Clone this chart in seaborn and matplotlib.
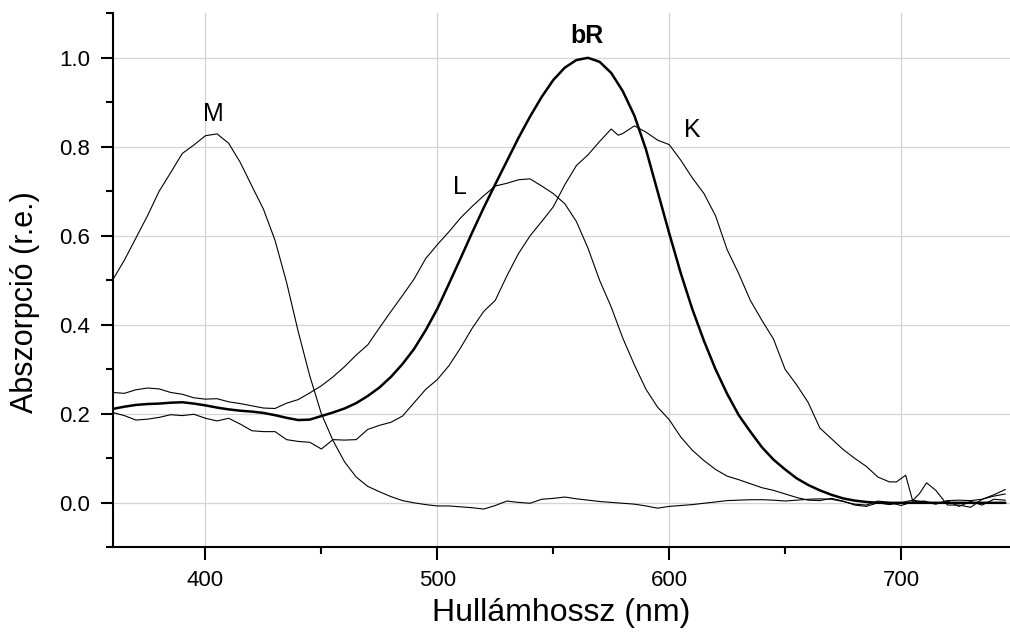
import matplotlib
matplotlib.use("Agg")
import matplotlib.pyplot as plt
from matplotlib.ticker import MultipleLocator, FormatStrFormatter
import seaborn as sns

# Absorption spectra of bacteriorhodopsin and its photocycle intermediates
wl_5nm = list(range(360, 750, 5))

abs_br = [0.211, 0.216, 0.220, 0.222, 0.223, 0.225, 0.226, 0.223, 0.219, 0.214,
          0.210, 0.207, 0.205, 0.202, 0.197, 0.191, 0.186, 0.187, 0.195, 0.203,
          0.212, 0.224, 0.240, 0.259, 0.283, 0.312, 0.346, 0.388, 0.436, 0.492,
          0.549, 0.607, 0.663, 0.716, 0.768, 0.820, 0.868, 0.912, 0.950, 0.978,
          0.995, 1.000, 0.991, 0.966, 0.925, 0.870, 0.794, 0.700, 0.606, 0.516,
          0.435, 0.364, 0.300, 0.245, 0.197, 0.160, 0.125, 0.097, 0.075, 0.055,
          0.040, 0.028, 0.018, 0.010, 0.005, 0.002, 0.000, 0.000, 0.000, 0.000,
          0.000, 0.000, 0.000, 0.000, 0.000, 0.000, 0.000, 0.000]

abs_l = [0.248, 0.246, 0.254, 0.258, 0.256, 0.248, 0.244, 0.236, 0.233, 0.234,
         0.227, 0.223, 0.218, 0.213, 0.212, 0.224, 0.232, 0.247, 0.263, 0.283,
         0.306, 0.332, 0.355, 0.393, 0.430, 0.466, 0.503, 0.549, 0.580, 0.609,
         0.640, 0.666, 0.690, 0.712, 0.718, 0.726, 0.728, 0.712, 0.695, 0.672,
         0.632, 0.572, 0.500, 0.440, 0.370, 0.310, 0.255, 0.215, 0.187, 0.148,
         0.118, 0.095, 0.075, 0.060, 0.052, 0.043, 0.034, 0.028, 0.020, 0.012,
         0.006, 0.005, 0.010, 0.004, -0.005, -0.008, 0.000, -0.004, 0.000, 0.006,
         0.002, -0.003, 0.005, 0.006, 0.005, 0.008, 0.015, 0.020]

abs_m = [0.501, 0.545, 0.595, 0.645, 0.700, 0.742, 0.785, 0.804, 0.825, 0.829,
         0.808, 0.765, 0.712, 0.660, 0.590, 0.495, 0.385, 0.285, 0.200, 0.140,
         0.092, 0.058, 0.037, 0.025, 0.014, 0.005, 0.000, -0.004, -0.007, -0.007,
         -0.009, -0.011, -0.014, -0.006, 0.004, 0.001, -0.001, 0.008, 0.010, 0.013,
         0.009, 0.006, 0.003, 0.001, -0.001, -0.003, -0.007, -0.012, -0.008, -0.006,
         -0.004, -0.001, 0.002, 0.005, 0.006, 0.007, 0.007, 0.006, 0.004, 0.006,
         0.008, 0.009, 0.008, 0.003, -0.003, -0.005, 0.004, 0.001, -0.006, 0.002,
         0.004, -0.002, 0.004, -0.008, 0.003, -0.005, 0.008, 0.006]

wl_k = [360, 365, 370, 375, 380, 385, 390, 395, 400, 405, 410, 415, 420, 425,
        430, 435, 440, 445, 450, 455, 460, 465, 470, 475, 480, 485, 490, 495,
        500, 505, 510, 515, 520, 525, 530, 535, 540, 545, 550, 555, 560, 565,
        570, 575, 578, 580, 585, 590, 595, 600, 605, 610, 615, 620, 625, 630,
        635, 640, 645, 650, 655, 660, 665, 670, 675, 680, 685, 690, 695, 698,
        702, 705, 708, 711, 715, 720, 725, 730, 735, 740, 745]
abs_k = [0.203, 0.196, 0.186, 0.188, 0.192, 0.198, 0.196, 0.199, 0.190, 0.184,
         0.190, 0.177, 0.162, 0.160, 0.160, 0.142, 0.138, 0.136, 0.121, 0.142,
         0.141, 0.142, 0.165, 0.174, 0.181, 0.195, 0.225, 0.255, 0.277, 0.308,
         0.348, 0.392, 0.430, 0.455, 0.510, 0.560, 0.600, 0.632, 0.665, 0.715,
         0.758, 0.782, 0.812, 0.840, 0.826, 0.830, 0.847, 0.833, 0.815, 0.805,
         0.770, 0.730, 0.695, 0.645, 0.569, 0.515, 0.455, 0.410, 0.368, 0.300,
         0.265, 0.225, 0.168, 0.144, 0.120, 0.100, 0.082, 0.058, 0.047, 0.047,
         0.062, 0.005, 0.021, 0.045, 0.028, -0.005, -0.005, -0.010, 0.008, 0.018,
         0.030]

labels = ["M", "L", "bR", "K"]
label_x = [403.4, 509.8, 564.4, 609.9]
label_y = [0.857, 0.694, 1.034, 0.823]
label_weight = ["normal", "normal", "bold", "normal"]

x_ticks = [400, 500, 600, 700]
y_ticks = [0.0, 0.2, 0.4, 0.6, 0.8, 1.0]

sns.set_theme(style="ticks")
plt.rcParams["font.family"] = ["Liberation Sans", "DejaVu Sans"]

fig = plt.figure(figsize=(10.1, 6.4), dpi=100)
ax = fig.add_axes([0.1116, 0.1448, 0.8884, 0.8344])

for xs, ys, lw in [(wl_5nm, abs_m, 0.8), (wl_5nm, abs_l, 0.8),
                   (wl_k, abs_k, 0.8), (wl_5nm, abs_br, 1.8)]:
    sns.lineplot(x=xs, y=ys, color="black", linewidth=lw, ax=ax,
                 estimator=None, sort=False, zorder=3)

for txt, xv, yv, wt in zip(labels, label_x, label_y, label_weight):
    ax.text(xv, yv, txt, ha="center", va="baseline", fontsize=18,
            fontweight=wt, color="black", zorder=4)

ax.set_xlim(360, 747)
ax.set_ylim(-0.1, 1.1)
ax.set_xticks(x_ticks)
ax.set_yticks(y_ticks)
ax.xaxis.set_minor_locator(MultipleLocator(50))
ax.yaxis.set_minor_locator(MultipleLocator(0.1))
ax.yaxis.set_major_formatter(FormatStrFormatter("%.1f"))

ax.grid(True, which="major", color="#d4d4d4", linewidth=0.9, zorder=0)
ax.set_axisbelow(True)

for side in ["top", "right"]:
    ax.spines[side].set_visible(False)
for side in ["left", "bottom"]:
    ax.spines[side].set_color("black")
    ax.spines[side].set_linewidth(1.5)

ax.tick_params(axis="both", which="major", direction="out", length=9, width=1.5,
               color="black", labelsize=16, labelcolor="black", pad=7)
ax.tick_params(axis="both", which="minor", direction="out", length=5, width=1.5,
               color="black")

ax.set_xlabel("Hullámhossz (nm)", fontsize=23, color="black")
ax.set_ylabel("Abszorpció (r.e.)", fontsize=22, color="black")
ax.xaxis.set_label_coords(0.5, -0.095)
ax.yaxis.set_label_coords(-0.081, 0.46)

fig.savefig("out.png", dpi=100, facecolor="white")
